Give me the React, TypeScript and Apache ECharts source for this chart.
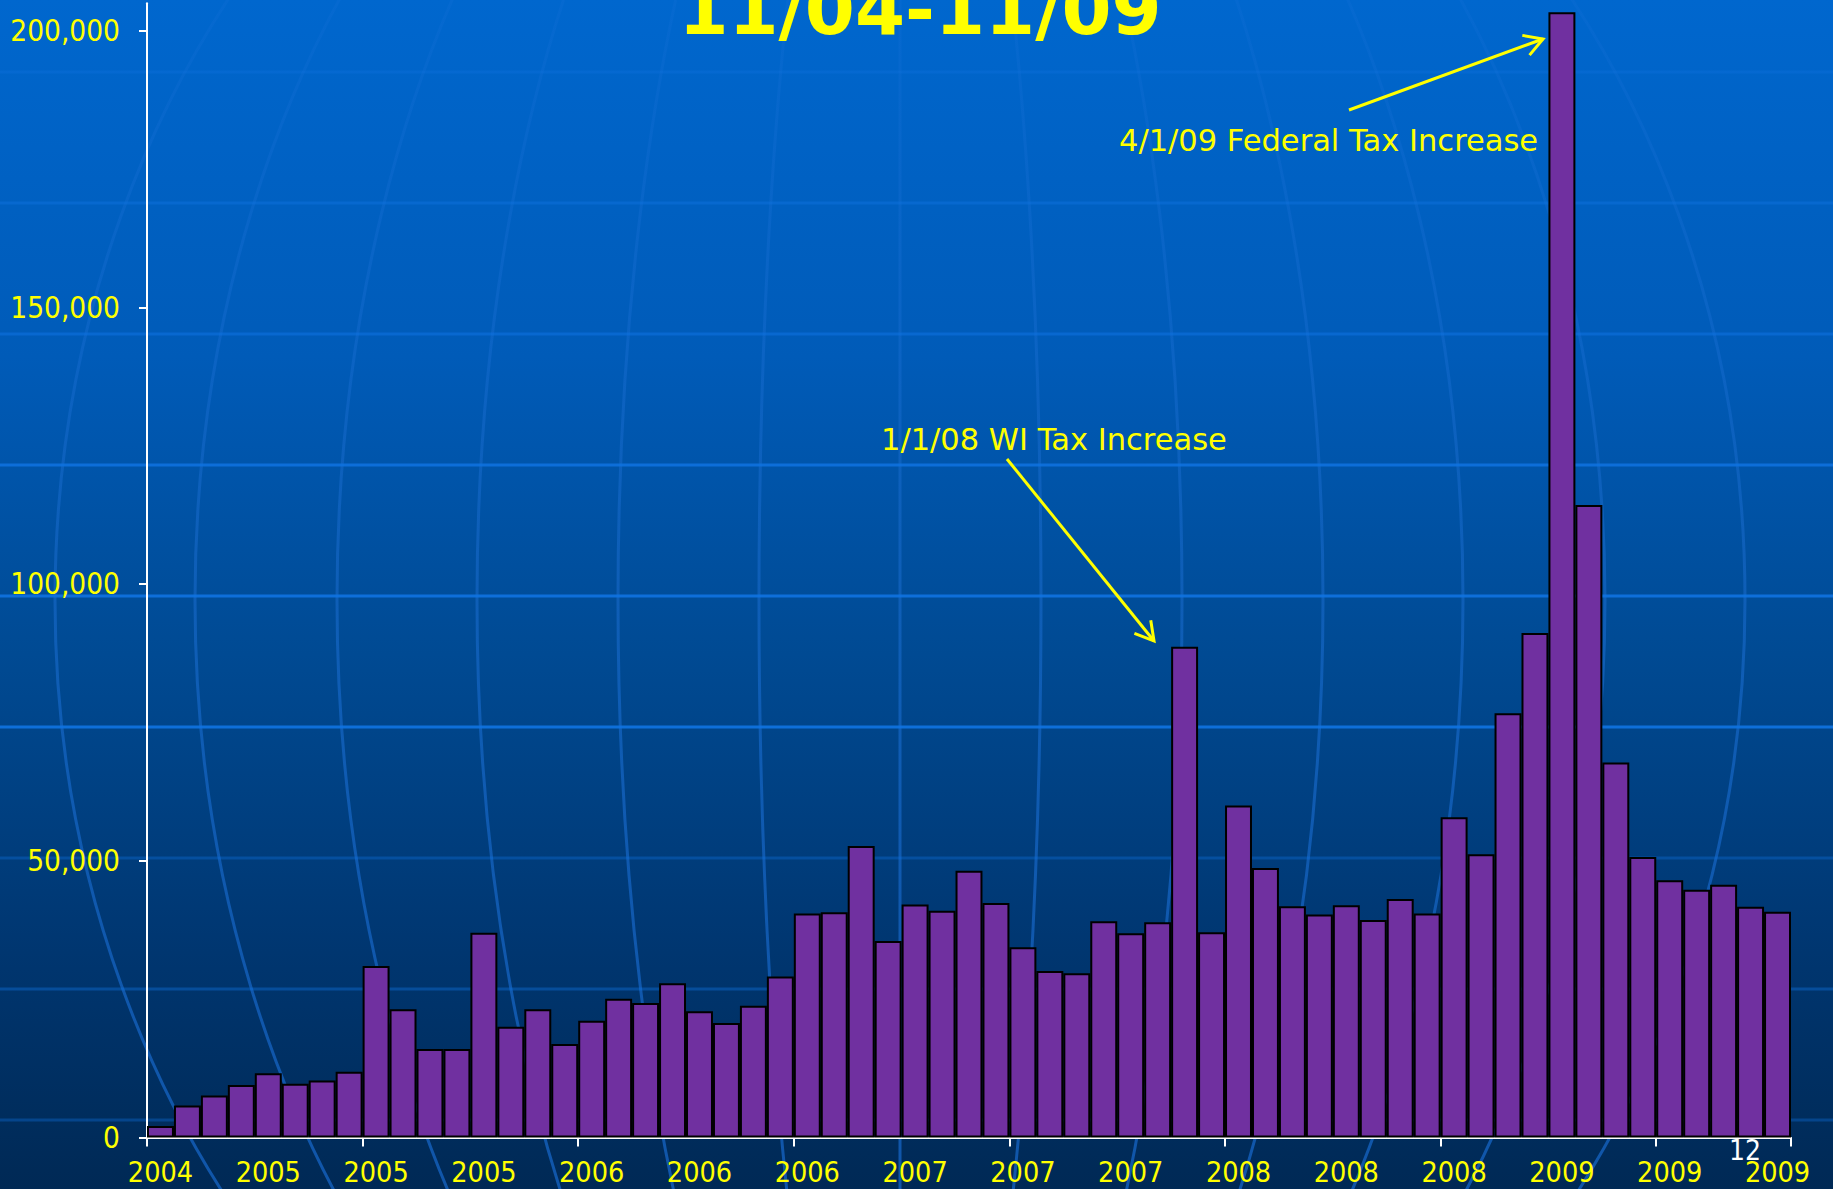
import React, { useEffect, useRef } from "react";
import * as echarts from "echarts";

const months: string[] = [
  "2004-11", "2004-12",
  "2005-01", "2005-02", "2005-03", "2005-04", "2005-05", "2005-06", "2005-07", "2005-08", "2005-09", "2005-10", "2005-11", "2005-12",
  "2006-01", "2006-02", "2006-03", "2006-04", "2006-05", "2006-06", "2006-07", "2006-08", "2006-09", "2006-10", "2006-11", "2006-12",
  "2007-01", "2007-02", "2007-03", "2007-04", "2007-05", "2007-06", "2007-07", "2007-08", "2007-09", "2007-10", "2007-11", "2007-12",
  "2008-01", "2008-02", "2008-03", "2008-04", "2008-05", "2008-06", "2008-07", "2008-08", "2008-09", "2008-10", "2008-11", "2008-12",
  "2009-01", "2009-02", "2009-03", "2009-04", "2009-05", "2009-06", "2009-07", "2009-08", "2009-09", "2009-10", "2009-11",
];

const sales: number[] = [
  2100, 5800, 7600, 9500, 11600, 9700, 10300, 11900, 31000, 23200,
  16000, 16000, 37000, 20000, 23200, 16900, 21100, 25100, 24300, 27900,
  22800, 20700, 23800, 29100, 40500, 40700, 52700, 35500, 42100, 41000,
  48200, 42400, 34400, 30100, 29700, 39100, 36900, 38900, 88700, 37100,
  60000, 48700, 41800, 40300, 42000, 39300, 43100, 40500, 57900, 51200,
  76700, 91200, 203400, 114300, 67800, 50700, 46500, 44800, 45700, 41700, 40800,
];

const yTicks: number[] = [0, 50000, 100000, 150000, 200000];

const titleText = "11/04-11/09";
const noteFederal = "4/1/09 Federal Tax Increase";
const noteWI = "1/1/08 WI Tax Increase";
const slideNumber = "12";

const AXIS_FONT = "'DejaVu Sans Condensed', 'DejaVu Sans', sans-serif";
const TEXT_FONT = "'DejaVu Sans', Verdana, sans-serif";

function arrowHead(tail: number[], tip: number[], len: number): number[][] {
  const dx = tip[0] - tail[0];
  const dy = tip[1] - tail[1];
  const d = Math.sqrt(dx * dx + dy * dy);
  const bx = -dx / d;
  const by = -dy / d;
  const c = Math.cos(Math.PI / 6);
  const s = Math.sin(Math.PI / 6);
  const a1 = [tip[0] + len * (bx * c - by * s), tip[1] + len * (bx * s + by * c)];
  const a2 = [tip[0] + len * (bx * c + by * s), tip[1] + len * (-bx * s + by * c)];
  return [a1, tip, a2];
}

export default function App() {
  const ref = useRef<HTMLDivElement>(null);

  useEffect(() => {
    if (!ref.current) return;
    const chart = echarts.init(ref.current, undefined, { renderer: "svg" });

    const meridianRx = [0, 141, 282, 423, 563, 705, 845];
    const parallels: [number, number][] = [
      [72, 0.3], [203, 0.45], [334, 0.55], [465, 0.85], [596, 0.9],
      [727, 0.9], [858, 0.35], [989, 0.4], [1120, 0.35],
    ];

    const meridianStroke = () =>
      new echarts.graphic.LinearGradient(0, 0, 0, 1189, [
        { offset: 0, color: "rgba(40,120,225,0.12)" },
        { offset: 0.35, color: "rgba(40,120,225,0.3)" },
        { offset: 0.6, color: "rgba(30,115,220,0.5)" },
        { offset: 1, color: "rgba(25,110,215,0.65)" },
      ], true);

    const graphics: any[] = [];
    meridianRx.forEach((rx) => {
      if (rx === 0) {
        graphics.push({
          type: "line", z: 0, silent: true,
          shape: { x1: 900, y1: 0, x2: 900, y2: 1189 },
          style: { stroke: meridianStroke(), lineWidth: 3 },
        });
      } else {
        graphics.push({
          type: "ellipse", z: 0, silent: true,
          shape: { cx: 900, cy: 600, rx, ry: 990 },
          style: { fill: "none", stroke: meridianStroke(), lineWidth: 3 },
        });
      }
    });
    parallels.forEach(([y, op]) => {
      graphics.push({
        type: "line", z: 0, silent: true,
        shape: { x1: 0, y1: y, x2: 1833, y2: y },
        style: { stroke: `rgba(15,115,225,${op})`, lineWidth: 3 },
      });
    });

    // Title (clipped at the top of the slide)
    graphics.push({
      type: "text", z: 100,
      x: 920, y: 9,
      style: {
        text: titleText, fill: "#FFFF00", font: `bold 72px ${TEXT_FONT}`,
        textAlign: "center", textVerticalAlign: "middle",
      },
    });

    // Annotations
    const fedTail = [1349, 110];
    const fedTip = [1543, 39];
    const wiTail = [1007, 459];
    const wiTip = [1154, 641];
    graphics.push(
      {
        type: "text", z: 100, x: 1119, y: 140,
        style: { text: noteFederal, fill: "#FFFF00", font: `30.5px ${TEXT_FONT}`, textAlign: "left", textVerticalAlign: "middle" },
      },
      {
        type: "line", z: 100,
        shape: { x1: fedTail[0], y1: fedTail[1], x2: fedTip[0], y2: fedTip[1] },
        style: { stroke: "#FFFF00", lineWidth: 3 },
      },
      {
        type: "polyline", z: 100,
        shape: { points: arrowHead(fedTail, fedTip, 21) },
        style: { stroke: "#FFFF00", lineWidth: 3, fill: "none" },
      },
      {
        type: "text", z: 100, x: 881, y: 439,
        style: { text: noteWI, fill: "#FFFF00", font: `30.5px ${TEXT_FONT}`, textAlign: "left", textVerticalAlign: "middle" },
      },
      {
        type: "line", z: 100,
        shape: { x1: wiTail[0], y1: wiTail[1], x2: wiTip[0], y2: wiTip[1] },
        style: { stroke: "#FFFF00", lineWidth: 3 },
      },
      {
        type: "polyline", z: 100,
        shape: { points: arrowHead(wiTail, wiTip, 21) },
        style: { stroke: "#FFFF00", lineWidth: 3, fill: "none" },
      },
      {
        type: "text", z: 100, x: 1745, y: 1150,
        style: { text: slideNumber, fill: "#FFFFFF", font: `28px ${AXIS_FONT}`, textAlign: "center", textVerticalAlign: "middle" },
      }
    );

    chart.setOption({
      animation: false,
      backgroundColor: new echarts.graphic.LinearGradient(0, 0, 0, 1, [
        { offset: 0, color: "#0067CE" },
        { offset: 0.3, color: "#005BB8" },
        { offset: 0.55, color: "#004A93" },
        { offset: 0.8, color: "#003670" },
        { offset: 1, color: "#002955" },
      ]),
      grid: { left: 147, right: 42, top: 3.3, bottom: 51.5, containLabel: false },
      xAxis: {
        type: "category",
        data: months,
        boundaryGap: true,
        axisLine: { show: true, lineStyle: { color: "#FFFFFF", width: 2 } },
        axisTick: { show: true, interval: 7, length: 9, lineStyle: { color: "#FFFFFF", width: 2 } },
        axisLabel: {
          interval: 3,
          color: "#FFFF00",
          fontSize: 28.5,
          fontFamily: AXIS_FONT,
          margin: 20,
          formatter: (v: string) => v.slice(0, 4),
        },
        splitLine: { show: false },
      },
      yAxis: {
        type: "value",
        min: 0,
        max: 205000,
        axisLine: { show: true, lineStyle: { color: "#FFFFFF", width: 2 } },
        axisTick: { show: true, length: 8, customValues: yTicks, lineStyle: { color: "#FFFFFF", width: 2 } },
        axisLabel: {
          customValues: yTicks,
          color: "#FFFF00",
          fontSize: 29.5,
          fontFamily: AXIS_FONT,
          margin: 27,
          formatter: (v: number) => v.toLocaleString("en-US"),
        },
        splitLine: { show: false },
      },
      series: [
        {
          type: "bar",
          data: sales,
          barCategoryGap: "0%",
          itemStyle: { color: "#7030A0", borderColor: "#000000", borderWidth: 2 },
          z: 2,
        },
      ],
      graphic: graphics,
    });

    return () => chart.dispose();
  }, []);

  return (
    <div
      ref={ref}
      style={{ position: "absolute", left: 0, top: 0, width: 1833, height: 1189 }}
    />
  );
}
